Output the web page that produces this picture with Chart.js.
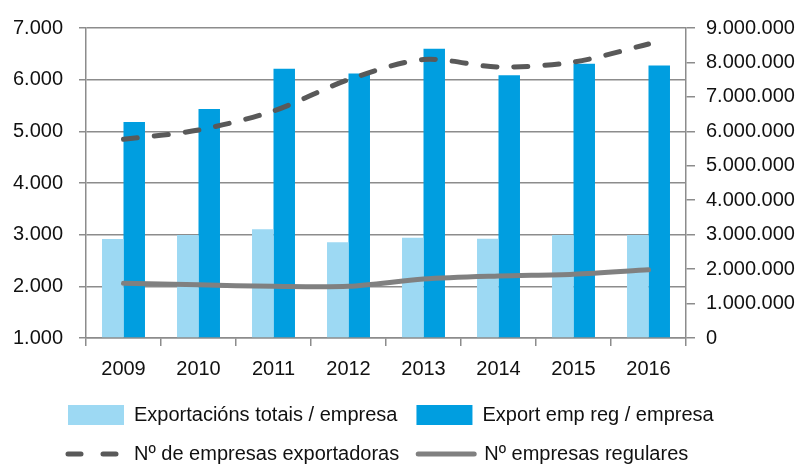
<!DOCTYPE html>
<html>
<head>
<meta charset="utf-8">
<script src="https://cdn.jsdelivr.net/npm/chart.js@4/dist/chart.umd.min.js"></script>
<style>
  html, body { margin: 0; padding: 0; background: #fff; }
  #wrap { width: 801px; height: 466px; }
</style>
</head>
<body>
<div id="wrap"><canvas id="chart" width="801" height="466"></canvas></div>
<script>
const years = ["2009", "2010", "2011", "2012", "2013", "2014", "2015", "2016"];

// right axis (euros per company)
const totalPerFirm = [2877000, 2990000, 3160000, 2780000, 2910000, 2880000, 2990000, 2990000];
const regularPerFirm = [6270000, 6650000, 7820000, 7680000, 8400000, 7630000, 7960000, 7910000];

// left axis (number of companies)
const exporters = [4845, 5025, 5395, 6000, 6390, 6245, 6340, 6690];
const regulars = [2060, 2030, 2000, 2000, 2140, 2200, 2235, 2320];

const leftTicks = [1000, 2000, 3000, 4000, 5000, 6000, 7000];
const rightTicks = [0, 1000000, 2000000, 3000000, 4000000, 5000000, 6000000, 7000000, 8000000, 9000000];

const fmt = (v) => String(v).replace(/\B(?=(\d{3})+(?!\d))/g, ".");

const FONT = "'Liberation Sans', Arial, sans-serif";
const GRID = "#8c8c8c";
const legendOrder = [2, 3, 0, 1];
Chart.defaults.font.family = FONT;
Chart.defaults.color = "#111";

// move the legend block so its rows start under the plot like in the original
const legendShift = {
  id: "legendShift",
  beforeDraw(chart) {
    if (chart.legend) chart.legend.left = 49;
  },
};

new Chart(document.getElementById("chart"), {
  plugins: [legendShift],
  data: {
    labels: years,
    datasets: [
      {
        type: "line",
        label: "Nº de empresas exportadoras",
        yAxisID: "y",
        data: exporters,
        borderColor: "#595959",
        backgroundColor: "#595959",
        borderWidth: 5,
        borderDash: [14, 17],
        borderCapStyle: "round",
        tension: 0.3,
        pointRadius: 0,
        order: 0,
      },
      {
        type: "line",
        label: "Nº empresas regulares",
        yAxisID: "y",
        data: regulars,
        borderColor: "#808080",
        backgroundColor: "#808080",
        borderWidth: 5,
        borderCapStyle: "round",
        tension: 0.3,
        pointRadius: 0,
        order: 1,
      },
      {
        type: "bar",
        label: "Exportacións totais / empresa",
        yAxisID: "y2",
        data: totalPerFirm,
        backgroundColor: "#9dd9f3",
        categoryPercentage: 0.573,
        barPercentage: 1.0,
        order: 2,
      },
      {
        type: "bar",
        label: "Export emp reg / empresa",
        yAxisID: "y2",
        data: regularPerFirm,
        backgroundColor: "#009ee0",
        categoryPercentage: 0.573,
        barPercentage: 1.0,
        order: 3,
      },
    ],
  },
  options: {
    responsive: false,
    animation: false,
    layout: { padding: { left: 0, right: 0, top: 23, bottom: 0 } },
    plugins: {
      tooltip: { enabled: false },
      legend: {
        position: "bottom",
        align: "start",
        maxHeight: 80,
        labels: {
          usePointStyle: true,
          pointStyleWidth: 56,
          padding: 19,
          font: { size: 20 },
          color: "#111",
          sort: (a, b) => legendOrder.indexOf(a.datasetIndex) - legendOrder.indexOf(b.datasetIndex),
          generateLabels(chart) {
            const items = Chart.defaults.plugins.legend.labels.generateLabels(chart);
            items.forEach((it) => {
              const ds = chart.data.datasets[it.datasetIndex];
              if (ds.type === "line") {
                it.pointStyle = "line";
                it.lineWidth = 5;
                it.lineCap = "round";
                it.strokeStyle = ds.borderColor;
                it.lineDash = ds.borderDash ? [13, 22] : [];
              } else {
                it.pointStyle = "rect";
                it.lineWidth = 0;
              }
            });
            return items;
          },
        },
      },
    },
    scales: {
      x: {
        grid: {
          offset: true,
          drawOnChartArea: false,
          tickLength: 8,
          color: GRID,
          lineWidth: 1.5,
        },
        border: { display: true, color: GRID, width: 1.5 },
        ticks: { padding: 11, font: { size: 20 }, maxRotation: 0 },
        afterFit: (s) => { s.height = 48; },
      },
      y: {
        position: "left",
        min: 1000,
        max: 7000,
        grid: { color: GRID, lineWidth: 1.5, tickLength: 7 },
        border: { display: true, color: GRID, width: 1.5 },
        ticks: { padding: 16, font: { size: 20 }, callback: (v) => fmt(v) },
        afterBuildTicks: (s) => { s.ticks = leftTicks.map((v) => ({ value: v })); },
        afterFit: (s) => { s.width = 86; },
      },
      y2: {
        position: "right",
        min: 0,
        max: 9000000,
        grid: { drawOnChartArea: false, color: GRID, lineWidth: 1.5, tickLength: 9 },
        border: { display: true, color: GRID, width: 1.5 },
        ticks: { padding: 11, font: { size: 20 }, callback: (v) => fmt(v) },
        afterBuildTicks: (s) => { s.ticks = rightTicks.map((v) => ({ value: v })); },
        afterFit: (s) => { s.width = 115; },
      },
    },
  },
});
</script>
</body>
</html>
